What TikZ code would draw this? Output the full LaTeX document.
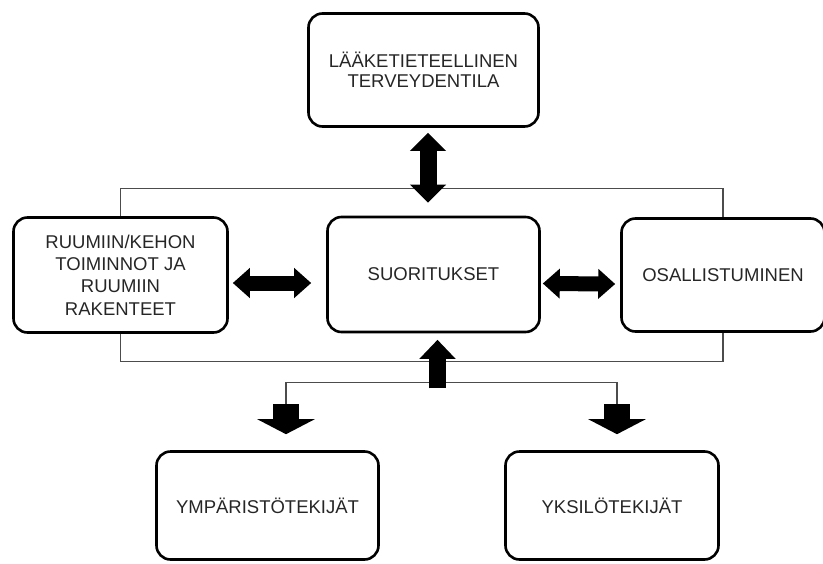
\documentclass[tikz,border=0pt]{standalone}
\usepackage{fontspec}
\setmainfont{Liberation Sans}
\usetikzlibrary{arrows.meta,calc}
\colorlet{viiva}{black!70}

\begin{document}
\begin{tikzpicture}[x=1pt,y=-1pt,
    laatikko/.style={draw,line width=2.6pt,rounded corners=14pt,align=center,text=black!85,font=\fontsize{18.5}{22.3}\selectfont},
    ohut/.style={viiva,line width=1.3pt},
    vaaka/.style={line width=15pt,{Triangle[length=17pt,width=29pt]}-{Triangle[length=17pt,width=29pt]}},
    pysty/.style={line width=17pt,{Triangle[length=18pt,width=35pt]}-{Triangle[length=18pt,width=35pt]}},
    ylos/.style={line width=17pt,-{Triangle[length=19pt,width=35pt]}},
    alas/.style={line width=26pt,-{Triangle[length=15pt,width=57pt]}}]
  \useasboundingbox (0,0) rectangle (823,563);
  \node[laatikko,minimum width=230pt,minimum height=113pt,font=\fontsize{18.5}{19.5}\selectfont] (lk) at (423.5,70) {LÄÄKETIETEELLINEN\\TERVEYDENTILA};
  \node[laatikko,minimum width=214pt,minimum height=115pt] (rk) at (120.5,275) {RUUMIIN/KEHON\\TOIMINNOT JA\\RUUMIIN\\RAKENTEET};
  \node[laatikko,minimum width=212pt,minimum height=115pt] (suor) at (433.5,274.5) {SUORITUKSET};
  \node[laatikko,minimum width=203pt,minimum height=113pt] (osal) at (723,275) {OSALLISTUMINEN};
  \node[laatikko,minimum width=222pt,minimum height=108pt] (ymp) at (267.5,505.5) {YMPÄRISTÖTEKIJÄT};
  \node[laatikko,minimum width=213pt,minimum height=108pt] (yks) at (612,505.5) {YKSILÖTEKIJÄT};
  \draw[ohut] (rk.north) -- ++(0,-28) -| (osal.north);
  \draw[ohut] (rk.south) -- ++(0,28) -| (osal.south);
  \draw[ohut] ($(ymp.north)+(18.5,-46)$) |- ($(suor.south)+(4,49)$) -| ($(yks.north)+(5,-46)$);
  \draw[pysty] ($(lk.south)+(4.5,5)$) -- ($(suor.north)+(-5.5,-13)$);
  \draw[vaaka] ($(rk.east)+(4,8)$) -- ($(suor.west)+(-15,8.5)$);
  \draw[vaaka] ($(suor.east)+(2,9)$) -- ($(osal.west)+(-5,9)$);
  \draw[ylos] ($(suor.south)+(4,55)$) -- ($(suor.south)+(4,6.5)$);
  \draw[alas] ($(ymp.north)+(18.5,-46)$) -- ($(ymp.north)+(18.5,-16)$);
  \draw[alas] ($(yks.north)+(5,-46)$) -- ($(yks.north)+(5,-16)$);
\end{tikzpicture}
\end{document}
